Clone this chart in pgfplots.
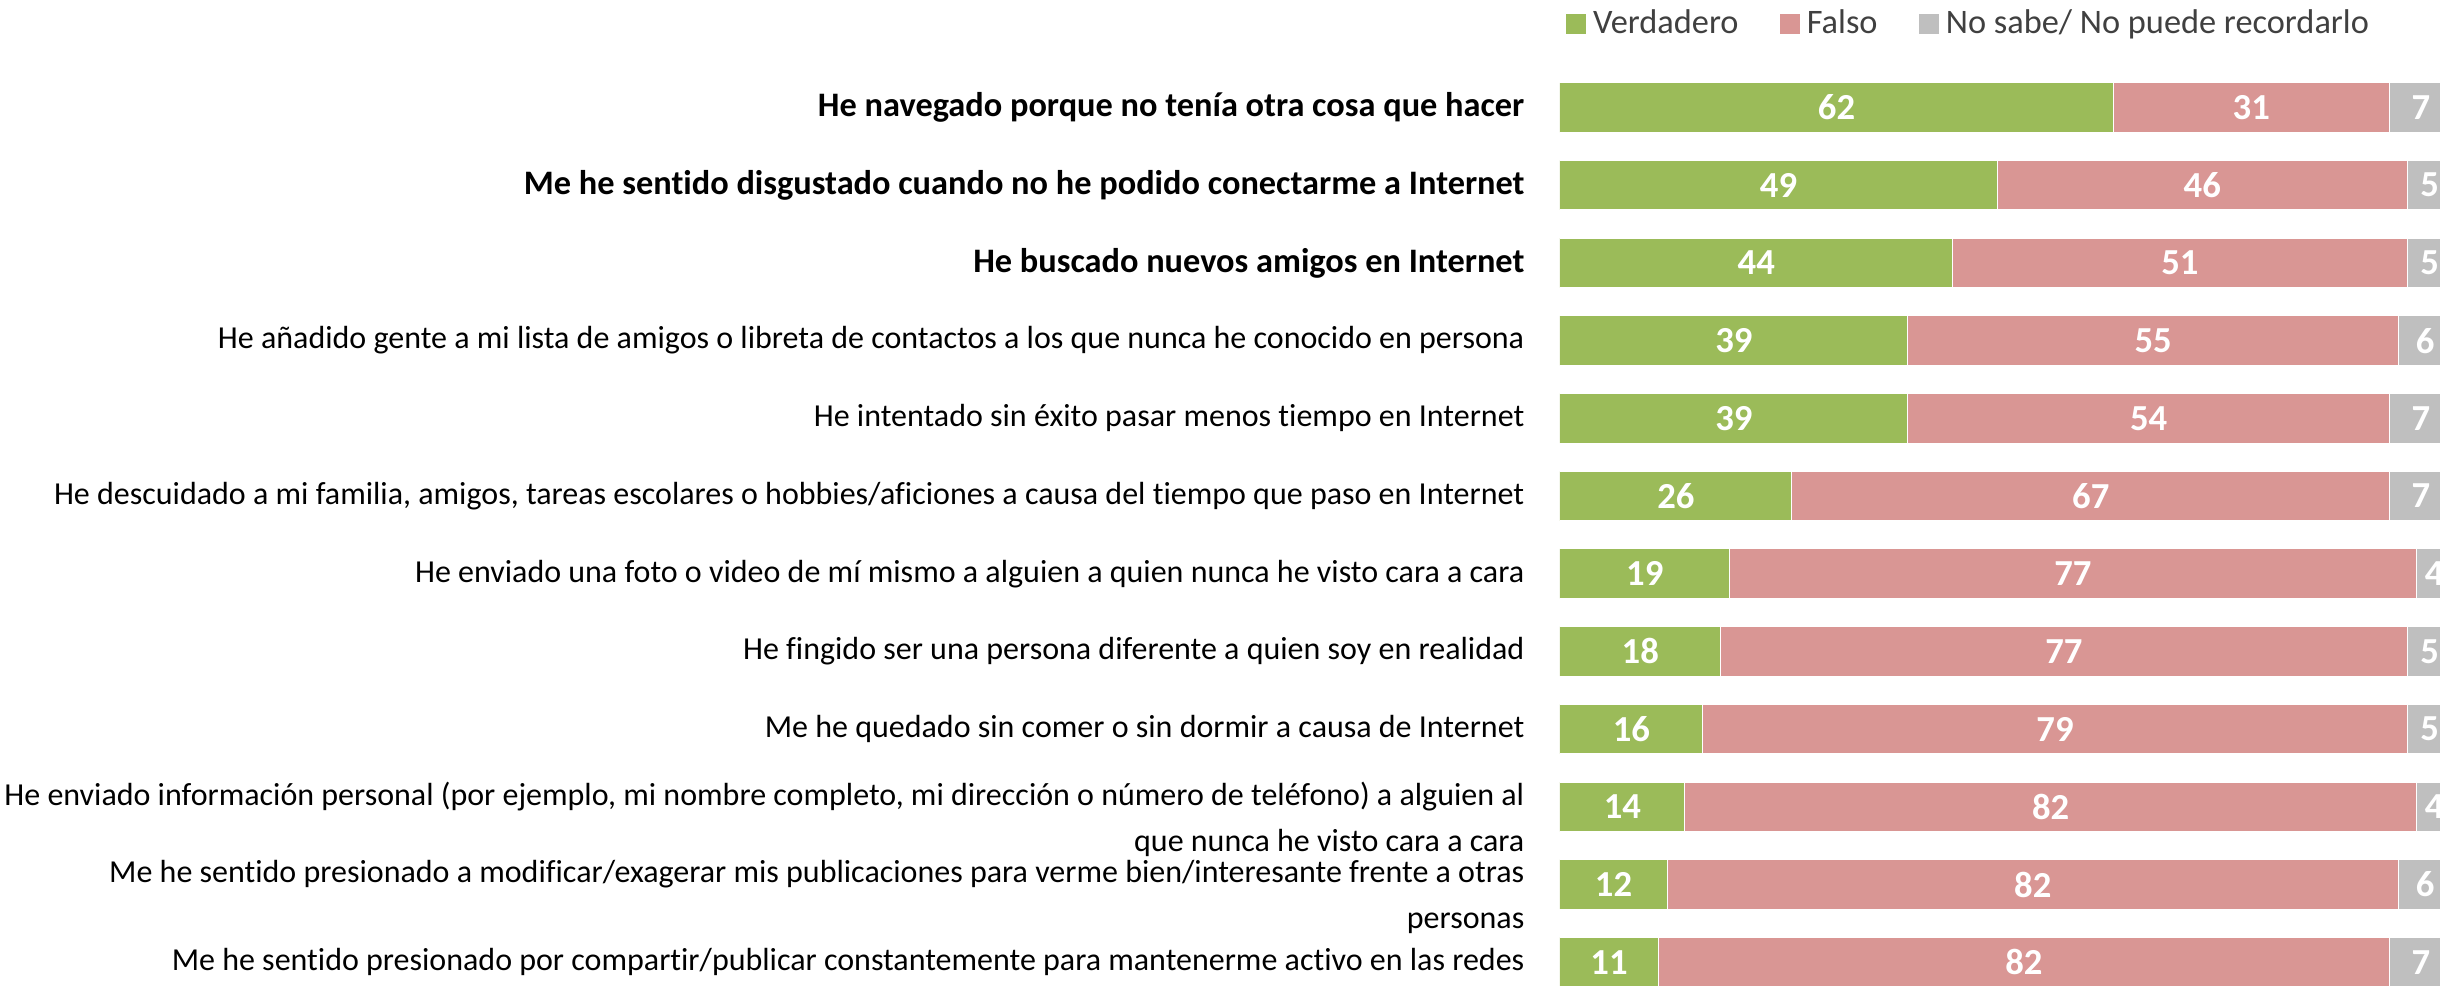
\documentclass[border=0pt]{standalone}
\usepackage{pgfplots}
\pgfplotsset{compat=1.18}
\usepackage{fontspec}
\setmainfont{Carlito}[Ligatures=NoCommon]
\definecolor{cgreen}{HTML}{9BBB59}
\definecolor{cpink}{HTML}{D99694}
\definecolor{cgrey}{HTML}{BFBFBF}
\definecolor{legendgray}{HTML}{404040}
\newcommand{\bl}[1]{{\fontsize{10.3}{13.8}\selectfont\bfseries #1}}
\pgfplotsset{
  geom/.style={
    at={(468pt,-20.6pt)}, anchor=north west,
    scale only axis,
    width=267.6pt, height=279.7pt,
    xmin=0, xmax=100,
    ymin=0.5, ymax=12.5,
    y dir=reverse,
  },
}
\begin{document}
\begin{tikzpicture}
\path[use as bounding box] (0,0) rectangle (732pt,-295.5pt);
\begin{axis}[
  geom,
  xbar stacked,
  bar width=14.85pt,
  axis line style={draw=none},
  xtick=\empty,
  ytick={1,2,3,4,5,6,7,8,9,12},
  major tick length=0pt,
  tick style={draw=none},
  yticklabel style={inner sep=0pt, xshift=-10.5pt, align=right, font=\fontsize{9.6}{13.8}\selectfont, text=black},
  yticklabels={
    {\bl{He navegado porque no tenía otra cosa que hacer}},
    {\bl{Me he sentido disgustado cuando no he podido conectarme a Internet}},
    {\bl{He buscado nuevos amigos en Internet}},
    {He añadido gente a mi lista de amigos o libreta de contactos a los que nunca he conocido en persona},
    {He intentado sin éxito pasar menos tiempo en Internet},
    {He descuidado a mi familia, amigos, tareas escolares o hobbies/aficiones a causa del tiempo que paso en Internet},
    {He enviado una foto o video de mí mismo a alguien a quien nunca he visto cara a cara},
    {He fingido ser una persona diferente a quien soy en realidad},
    {Me he quedado sin comer o sin dormir a causa de Internet},
    {Me he sentido presionado por compartir/publicar constantemente para mantenerme activo en las redes}
  },
  extra y ticks={10,11},
  extra y tick labels={
    {He enviado información personal (por ejemplo, mi nombre completo, mi dirección o número de teléfono) a alguien al\\que nunca he visto cara a cara},
    {Me he sentido presionado a modificar/exagerar mis publicaciones para verme bien/interesante frente a otras\\personas}
  },
  extra y tick style={yticklabel style={yshift=-3.7pt}},
  legend columns=3,
  legend style={at={(axis description cs:0.0064,1.0479)}, anchor=west, draw=none, fill=none, inner sep=0pt,
    font=\fontsize{10.3}{12}\selectfont, text=legendgray,
    /tikz/every even column/.append style={column sep=10.5pt}},
  legend image code/.code={\fill[#1, draw=none] (0pt,-3pt) rectangle (6pt,3pt);},
]
\addplot[fill=cgreen, draw=white, line width=0.3pt] coordinates {
(62,1) (49,2) (44,3) (39,4) (39,5) (26,6) (19,7) (18,8) (16,9) (14,10) (12,11) (11,12)};
\addplot[fill=cpink, draw=white, line width=0.3pt] coordinates {
(31,1) (46,2) (51,3) (55,4) (54,5) (67,6) (77,7) (77,8) (79,9) (82,10) (82,11) (82,12)};
\addplot[fill=cgrey, draw=white, line width=0.3pt] coordinates {
(7,1) (5,2) (5,3) (6,4) (7,5) (7,6) (4,7) (5,8) (5,9) (4,10) (6,11) (7,12)};
\legend{Verdadero, Falso, No sabe/ No puede recordarlo}
\end{axis}
\begin{axis}[
  geom,
  hide axis,
  clip=false,
  nodes near coords,
  point meta=explicit symbolic,
  every node near coord/.style={anchor=center, inner sep=0pt, font=\fontsize{11}{12}\selectfont\bfseries, text=white},
]
% labels at the middle of each segment: (middle, row) [value]
\addplot[draw=none, mark=none] coordinates {
(31,1)[62] (24.5,2)[49] (22,3)[44] (19.5,4)[39] (19.5,5)[39] (13,6)[26]
(9.5,7)[19] (9,8)[18] (8,9)[16] (7,10)[14] (6,11)[12] (5.5,12)[11]};
\addplot[draw=none, mark=none] coordinates {
(77.5,1)[31] (72,2)[46] (69.5,3)[51] (66.5,4)[55] (66,5)[54] (59.5,6)[67]
(57.5,7)[77] (56.5,8)[77] (55.5,9)[79] (55,10)[82] (53,11)[82] (52,12)[82]};
\addplot[draw=none, mark=none] coordinates {
(96.5,1)[7] (97.5,2)[5] (97.5,3)[5] (97,4)[6] (96.5,5)[7] (96.5,6)[7]
(98,7)[4] (97.5,8)[5] (97.5,9)[5] (98,10)[4] (97,11)[6] (96.5,12)[7]};
\end{axis}
\end{tikzpicture}
\end{document}
